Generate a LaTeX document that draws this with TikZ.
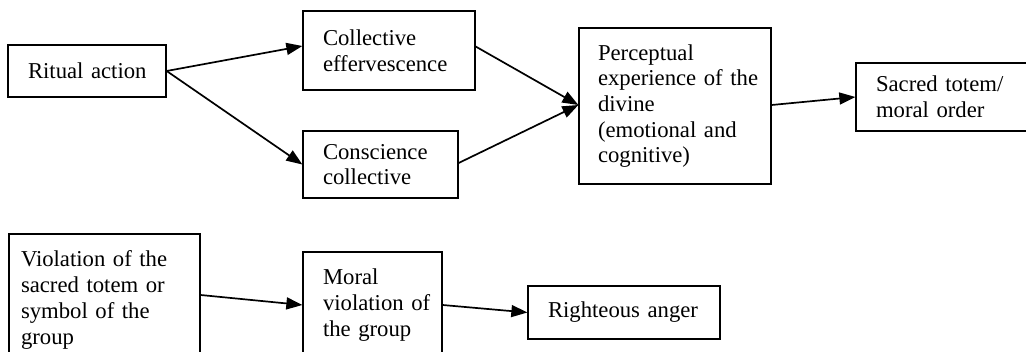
\documentclass[tikz,border=0pt]{standalone}
\usepackage{fontspec}
\setmainfont{Liberation Serif}
\usetikzlibrary{arrows.meta}
\tikzset{
  box/.style={draw, line width=1.3pt, rectangle, inner xsep=20pt, inner ysep=0pt,
    align=left, font=\fontsize{22.7}{25.7}\selectfont},
  flow/.style={line width=1.7pt, -{Triangle[length=16pt,width=12pt]}}
}
\begin{document}
\begin{tikzpicture}[x=1pt,y=-1pt]
\useasboundingbox (0,0) rectangle (1026,352);
\clip (0,0) rectangle (1026,352);
% top row
\node[box, text width=118pt, minimum height=52pt] (rit) at (87,71) {\mbox{Ritual action}};
\node[box, text width=132pt, minimum height=79pt] (ce) at (389,50.5) {\mbox{Collective}\\\mbox{effervescence}};
\node[box, text width=115pt, minimum height=67pt] (cc) at (380.5,164.5) {\mbox{Conscience}\\\mbox{collective}};
\node[box, inner xsep=19pt, text width=154pt, minimum height=156pt] (pe) at (675,106)
  {\mbox{Perceptual}\\\mbox{experience of the}\\\mbox{divine}\\\mbox{(emotional and}\\\mbox{cognitive)}};
\node[box, text width=144pt, minimum height=68pt] (st) at (948,97) {\mbox{Sacred totem/}\\\mbox{moral order}};
% bottom row
\node[box, inner xsep=12pt, text width=167pt, minimum height=132pt] (vi) at (104.5,300)
  {\mbox{Violation of the}\\\mbox{sacred totem or}\\\mbox{symbol of the}\\\mbox{group}};
\node[box, text width=99pt, minimum height=106pt] (mv) at (372.5,305) {\mbox{Moral}\\\mbox{violation of}\\\mbox{the group}};
\node[box, text width=152pt, minimum height=53pt] (ra) at (624,312.5) {\mbox{Righteous anger}};
% connectors
\draw[flow] (rit.east) -- ([yshift=4.5pt]ce.west);
\draw[flow] (rit.east) -- (cc.west);
\draw[flow] ([yshift=4pt]ce.east) -- ([yshift=1pt]pe.west);
\draw[flow] ([yshift=1.5pt]cc.east) -- ([yshift=1pt]pe.west);
\draw[flow] ([yshift=1pt]pe.east) -- (st.west);
\draw[flow] ([yshift=5pt]vi.east) -- (mv.west);
\draw[flow] (mv.east) -- (ra.west);
\end{tikzpicture}
\end{document}
